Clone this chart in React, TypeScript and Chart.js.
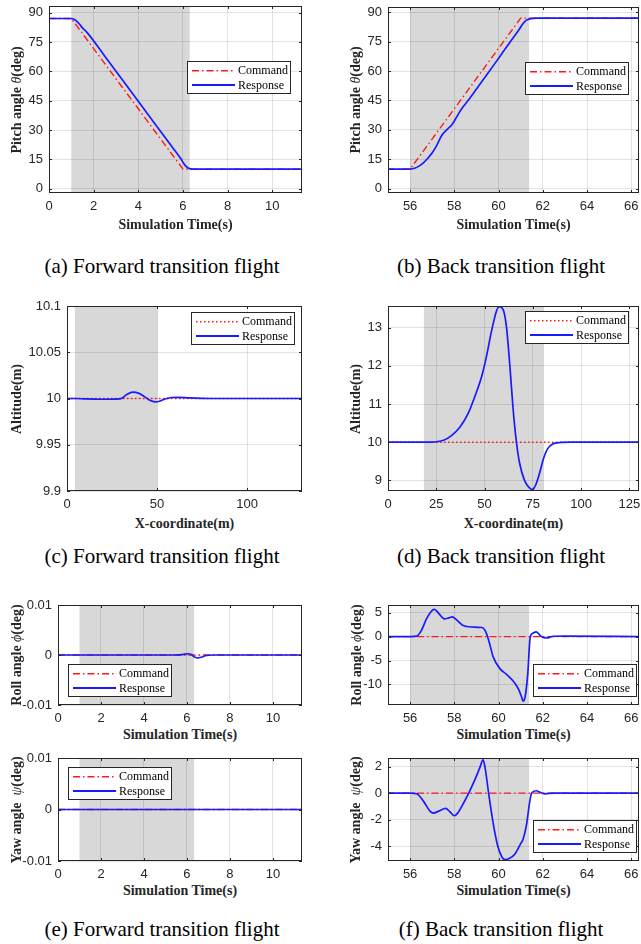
import React, { useEffect, useRef } from "react";
import { Chart, registerables } from "chart.js";
Chart.register(...registerables);

// ---------------- DATA ----------------
// (a) pitch, forward transition
const aCmdT = [0, 1.0, 6.0, 11.33];
const aCmdV = [87, 87, 10, 10];
const aRespT = [0, 1.0, 1.1, 1.2, 1.35, 1.5, 1.7, 2.5, 3.5, 4.5, 5.5, 5.9, 6.05, 6.15, 6.25, 6.35, 6.5, 6.7, 11.33];
const aRespV = [87, 87, 86.8, 86.0, 84.3, 82.2, 79.9, 67.75, 52.35, 36.95, 21.55, 15.4, 12.6, 11.3, 10.5, 10.15, 10.02, 10.0, 10.0];
// (b) pitch, back transition
const bCmdT = [55, 56, 61.0, 66.35];
const bCmdV = [10, 10, 87, 87];
const bRespT = [55, 56, 56.2, 56.4, 56.6, 56.8, 57.0, 57.2, 57.45, 57.7, 57.9, 58.1, 58.3, 58.65, 59.0, 59.5, 60.06, 60.5, 60.93, 61.1, 61.26, 61.45, 61.7, 62, 66.35];
const bRespV = [10, 10, 10.4, 11.5, 13.2, 15.5, 18.3, 22, 27.5, 30.5, 32.8, 36.5, 40.3, 45.4, 50.8, 58.6, 67.5, 74.5, 81.2, 84.2, 86.0, 86.8, 87, 87, 87];
// (c) altitude, forward transition
const cCmdX = [0, 130.5];
const cCmdV = [10, 10];
const cRespX = [0, 5, 10, 20, 27, 30, 33, 36.5, 40, 43, 46, 49, 51, 54, 58, 62, 68, 75, 85, 130.5];
const cRespV = [10, 10, 9.9995, 9.9992, 9.9993, 9.9998, 10.004, 10.0068, 10.0055, 10.002, 9.998, 9.9963, 9.9968, 9.9992, 10.0011, 10.0012, 10.0006, 10.0002, 10, 10];
// (d) altitude, back transition
const dCmdX = [0, 130];
const dCmdV = [10, 10];
const dRespX = [0, 20, 24, 28.8, 33.0, 37.3, 41.6, 45.0, 48.5, 51.0, 53.6, 56.2, 57.5, 59.6, 61.3, 63.0, 64.7, 66.4, 68.2, 70.7, 73.3, 74.5, 76.4, 78.4, 80.8, 82.7, 85.3, 88.7, 95, 130];
const dRespV = [10, 10, 10.005, 10.05, 10.18, 10.4, 10.76, 11.2, 11.72, 12.25, 12.91, 13.44, 13.55, 13.48, 13.04, 12.08, 10.93, 10.05, 9.44, 9.0, 8.8, 8.76, 8.87, 9.17, 9.61, 9.83, 9.95, 9.99, 10, 10];
// (e) roll, forward transition
const eRollCmdT = [0, 11.35];
const eRollCmdV = [0, 0];
const eRollRespT = [0, 5.5, 5.8, 6.05, 6.2, 6.35, 6.5, 6.7, 6.9, 7.2, 11.35];
const eRollRespV = [0, 0, 0.0001, 0.00025, 0.0001, -0.0004, -0.0006, -0.0004, -0.0001, 0, 0];
// (e) yaw, forward transition
const eYawCmdT = [0, 11.35];
const eYawCmdV = [0, 0];
const eYawRespT = [0, 11.35];
const eYawRespV = [0, 0];
// (f) roll, back transition
const fRollCmdT = [55, 66.35];
const fRollCmdV = [0, 0];
const fRollRespT = [55, 56, 56.3, 56.5, 56.75, 57.0, 57.1, 57.3, 57.55, 57.75, 57.9, 58.1, 58.4, 58.8, 59.25, 59.4, 59.5, 59.6, 59.76, 60.06, 60.36, 60.66, 60.89, 61.04, 61.11, 61.2, 61.32, 61.43, 61.55, 61.7, 61.93, 62.17, 62.47, 63, 66.35];
const fRollRespV = [0, 0, 0.1, 1.2, 3.8, 5.5, 5.7, 4.8, 3.7, 3.9, 4.1, 3.5, 2.3, 2.0, 1.9, 1.2, 0, -1.6, -4.3, -6.7, -7.9, -9.3, -10.9, -12.6, -13.5, -12.6, -7.8, -0.1, 0.7, 1.0, 0, -0.3, 0.07, 0.1, 0];
// (f) yaw, back transition
const fYawCmdT = [55, 66.35];
const fYawCmdV = [0, 0];
const fYawRespT = [55, 56, 56.3, 56.6, 56.9, 57.05, 57.3, 57.6, 57.8, 58.0, 58.15, 58.4, 58.65, 58.9, 59.15, 59.3, 59.4, 59.55, 59.75, 59.95, 60.15, 60.3, 60.5, 60.75, 61.0, 61.1, 61.26, 61.49, 61.7, 61.9, 62.1, 62.5, 66.35];
const fYawRespV = [0, 0, -0.05, -0.6, -1.35, -1.5, -1.35, -1.15, -1.4, -1.7, -1.5, -0.8, 0, 0.9, 1.9, 2.5, 1.8, 0, -2.2, -3.9, -4.8, -5.0, -4.9, -4.55, -3.8, -3.5, -2.4, 0, 0.18, 0.05, -0.05, 0, 0];

// shaded transition intervals
const aShade = [1.0, 6.3];
const bShade = [56.0, 61.38];
const cShade = [4.4, 50.2];
const dShade = [18.6, 80.8];
const eShade = [1.0, 6.33];
const fShade = [56.0, 61.38];

// tick labels
const pitchYTicks = [0, 15, 30, 45, 60, 75, 90];
const fwdTimeTicks = [0, 2, 4, 6, 8, 10];
const backTimeTicks = [56, 58, 60, 62, 64, 66];
const cYTicks = [9.9, 9.95, 10, 10.05, 10.1];
const cXTicks = [0, 50, 100];
const dYTicks = [9, 10, 11, 12, 13];
const dXTicks = [0, 25, 50, 75, 100, 125];
const smallYTicks = [-0.01, 0, 0.01];
const fRollYTicks = [-10, -5, 0, 5];
const fYawYTicks = [-4, -2, 0, 2];

const legendLabels = ["Command", "Response"];
const captions = [
  "(a) Forward transition flight",
  "(b) Back transition flight",
  "(c) Forward transition flight",
  "(d) Back transition flight",
  "(e) Forward transition flight",
  "(f) Back transition flight",
];

// ---------------- STYLE ----------------
const RED = "#ff1a1a";
const BLUE = "#1a1aff";
const SHADE = "#d8d8d8";
const AXIS = "#262626";
const GRID = "rgba(0,0,0,0.11)";
const SERIF = '"Liberation Serif", "Times New Roman", serif';
const SANS = '"Liberation Sans", Arial, sans-serif';

type Panel = {
  id: string;
  canvas: [number, number, number, number];
  plot: [number, number, number, number];
  xRange: [number, number];
  yRange: [number, number];
  xTicks: number[];
  yTicks: number[];
  shade: number[];
  cmdX: number[];
  cmdY: number[];
  respX: number[];
  respY: number[];
  dotted: boolean;
  legend: [number, number];
  yTitle: [string, string, string];
  yTitleX: number;
  xTitle: string;
  xTitleY: number;
};

const panels: Panel[] = [
  {
    id: "a", canvas: [0, 0, 320, 220], plot: [49, 6, 302, 193],
    xRange: [0, 11.33], yRange: [-2.2, 93.4], xTicks: fwdTimeTicks, yTicks: pitchYTicks,
    shade: aShade, cmdX: aCmdT, cmdY: aCmdV, respX: aRespT, respY: aRespV, dotted: false,
    legend: [187, 61], yTitle: ["Pitch angle ", "θ", "(deg)"], yTitleX: 17,
    xTitle: "Simulation Time(s)", xTitleY: 225,
  },
  {
    id: "b", canvas: [320, 0, 321, 220], plot: [388, 7, 639, 193],
    xRange: [55, 66.35], yRange: [-2.2, 92.7], xTicks: backTimeTicks, yTicks: pitchYTicks,
    shade: bShade, cmdX: bCmdT, cmdY: bCmdV, respX: bRespT, respY: bRespV, dotted: false,
    legend: [525, 62], yTitle: ["Pitch angle ", "θ", "(deg)"], yTitleX: 356,
    xTitle: "Simulation Time(s)", xTitleY: 225,
  },
  {
    id: "c", canvas: [0, 296, 320, 220], plot: [67, 306, 302, 491],
    xRange: [0, 130.5], yRange: [9.9, 10.1], xTicks: cXTicks, yTicks: cYTicks,
    shade: cShade, cmdX: cCmdX, cmdY: cCmdV, respX: cRespX, respY: cRespV, dotted: true,
    legend: [191, 312], yTitle: ["Altitude(m)", "", ""], yTitleX: 17,
    xTitle: "X-coordinate(m)", xTitleY: 523.5,
  },
  {
    id: "d", canvas: [320, 296, 321, 220], plot: [388, 306, 639, 491],
    xRange: [0, 130], yRange: [8.72, 13.57], xTicks: dXTicks, yTicks: dYTicks,
    shade: dShade, cmdX: dCmdX, cmdY: dCmdV, respX: dRespX, respY: dRespV, dotted: true,
    legend: [525, 311], yTitle: ["Altitude(m)", "", ""], yTitleX: 356,
    xTitle: "X-coordinate(m)", xTitleY: 523.5,
  },
  {
    id: "eR", canvas: [0, 595, 320, 130], plot: [58, 605, 302, 705],
    xRange: [0, 11.35], yRange: [-0.01, 0.01], xTicks: fwdTimeTicks, yTicks: smallYTicks,
    shade: eShade, cmdX: eRollCmdT, cmdY: eRollCmdV, respX: eRollRespT, respY: eRollRespV, dotted: false,
    legend: [68, 664], yTitle: ["Roll angle ", "ϕ", "(deg)"], yTitleX: 17,
    xTitle: "Simulation Time(s)", xTitleY: 735,
  },
  {
    id: "fR", canvas: [320, 595, 321, 130], plot: [388, 605, 639, 705],
    xRange: [55, 66.35], yRange: [-14.3, 6.6], xTicks: backTimeTicks, yTicks: fRollYTicks,
    shade: fShade, cmdX: fRollCmdT, cmdY: fRollCmdV, respX: fRollRespT, respY: fRollRespV, dotted: false,
    legend: [533, 664], yTitle: ["Roll angle ", "ϕ", "(deg)"], yTitleX: 356.5,
    xTitle: "Simulation Time(s)", xTitleY: 735,
  },
  {
    id: "eY", canvas: [0, 748, 320, 135], plot: [58, 758, 302, 861],
    xRange: [0, 11.35], yRange: [-0.01, 0.01], xTicks: fwdTimeTicks, yTicks: smallYTicks,
    shade: eShade, cmdX: eYawCmdT, cmdY: eYawCmdV, respX: eYawRespT, respY: eYawRespV, dotted: false,
    legend: [68, 767], yTitle: ["Yaw angle\u00a0 ", "ψ", "(deg)"], yTitleX: 17,
    xTitle: "Simulation Time(s)", xTitleY: 891,
  },
  {
    id: "fY", canvas: [320, 748, 321, 135], plot: [388, 758, 639, 861],
    xRange: [55, 66.35], yRange: [-5.1, 2.64], xTicks: backTimeTicks, yTicks: fYawYTicks,
    shade: fShade, cmdX: fYawCmdT, cmdY: fYawCmdV, respX: fYawRespT, respY: fYawRespV, dotted: false,
    legend: [533, 820], yTitle: ["Yaw angle\u00a0 ", "ψ", "(deg)"], yTitleX: 356,
    xTitle: "Simulation Time(s)", xTitleY: 891,
  },
];

const DASHDOT = [7, 3, 1.5, 3];
const DOTTED = [1.5, 2.5];
const LEG_W = 104;
const LEG_H = 33;

function zip(xs: number[], ys: number[]) {
  return xs.map((x, i) => ({ x, y: ys[i] }));
}

function makePlugin(p: Panel) {
  return {
    id: "deco_" + p.id,
    beforeDraw(chart: any) {
      const { ctx, chartArea: ca, scales } = chart;
      const x0 = scales.x.getPixelForValue(p.shade[0]);
      const x1 = scales.x.getPixelForValue(p.shade[1]);
      ctx.save();
      ctx.fillStyle = SHADE;
      ctx.fillRect(x0, ca.top, x1 - x0, ca.bottom - ca.top);
      ctx.restore();
    },
    afterDraw(chart: any) {
      const { ctx, chartArea: ca, scales } = chart;
      ctx.save();
      // inner tick marks
      ctx.strokeStyle = AXIS;
      ctx.lineWidth = 1;
      const tl = 3;
      ctx.beginPath();
      p.xTicks.forEach((v) => {
        const px = Math.round(scales.x.getPixelForValue(v)) + 0.5;
        ctx.moveTo(px, ca.bottom);
        ctx.lineTo(px, ca.bottom - tl);
        ctx.moveTo(px, ca.top);
        ctx.lineTo(px, ca.top + tl);
      });
      p.yTicks.forEach((v) => {
        const py = Math.round(scales.y.getPixelForValue(v)) + 0.5;
        ctx.moveTo(ca.left, py);
        ctx.lineTo(ca.left + tl, py);
        ctx.moveTo(ca.right, py);
        ctx.lineTo(ca.right - tl, py);
      });
      ctx.stroke();
      // frame
      ctx.strokeRect(
        Math.round(ca.left) + 0.5,
        Math.round(ca.top) + 0.5,
        Math.round(ca.right - ca.left) - 1,
        Math.round(ca.bottom - ca.top) - 1
      );
      // legend
      const lx = p.legend[0] - p.canvas[0];
      const ly = p.legend[1] - p.canvas[1];
      ctx.fillStyle = "#ffffff";
      ctx.fillRect(lx, ly, LEG_W, LEG_H);
      ctx.strokeStyle = AXIS;
      ctx.lineWidth = 1;
      ctx.strokeRect(lx + 0.5, ly + 0.5, LEG_W - 1, LEG_H - 1);
      const rows = [ly + 9.7, ly + 24];
      ctx.strokeStyle = RED;
      ctx.lineWidth = 1.5;
      ctx.setLineDash(p.dotted ? DOTTED : DASHDOT);
      ctx.beginPath();
      ctx.moveTo(lx + 5, rows[0]);
      ctx.lineTo(lx + 48, rows[0]);
      ctx.stroke();
      ctx.setLineDash([]);
      ctx.strokeStyle = BLUE;
      ctx.lineWidth = 2;
      ctx.beginPath();
      ctx.moveTo(lx + 5, rows[1]);
      ctx.lineTo(lx + 48, rows[1]);
      ctx.stroke();
      ctx.fillStyle = "#000";
      ctx.font = "12px " + SERIF;
      ctx.textBaseline = "middle";
      ctx.textAlign = "left";
      ctx.fillText(legendLabels[0], lx + 51, rows[0] + 0.5);
      ctx.fillText(legendLabels[1], lx + 51, rows[1] + 0.5);
      ctx.restore();
    },
  };
}

function PanelChart({ p }: { p: Panel }) {
  const ref = useRef<HTMLCanvasElement>(null);
  const [cl, ct, cw, ch] = p.canvas;
  useEffect(() => {
    const [L, T, R, B] = p.plot;
    const yAxisW = L - cl;
    const xAxisH = ct + ch - B;
    const tickFont = { family: SANS, size: 13 };
    const chart = new Chart(ref.current as HTMLCanvasElement, {
      type: "line",
      data: {
        datasets: [
          {
            label: legendLabels[1],
            data: zip(p.respX, p.respY),
            borderColor: BLUE,
            borderWidth: 1.7,
            pointRadius: 0,
            cubicInterpolationMode: "monotone",
            order: 0,
          } as any,
          {
            label: legendLabels[0],
            data: zip(p.cmdX, p.cmdY),
            borderColor: RED,
            borderWidth: 1.4,
            borderDash: p.dotted ? DOTTED : DASHDOT,
            pointRadius: 0,
            tension: 0,
            order: 1,
          } as any,
        ],
      },
      options: {
        animation: false,
        responsive: false,
        maintainAspectRatio: false,
        devicePixelRatio: 1,
        layout: { padding: { top: T - ct, right: cl + cw - R, bottom: 0, left: 0 } },
        plugins: { legend: { display: false }, tooltip: { enabled: false } },
        scales: {
          x: {
            type: "linear",
            min: p.xRange[0],
            max: p.xRange[1],
            afterBuildTicks: (s: any) => {
              s.ticks = p.xTicks.map((v) => ({ value: v }));
            },
            afterFit: (s: any) => {
              s.height = xAxisH;
              s.paddingLeft = 0;
              s.paddingRight = 0;
            },
            grid: { color: GRID, drawTicks: false, lineWidth: 1 },
            border: { display: false },
            ticks: {
              font: tickFont,
              color: AXIS,
              padding: 6,
              maxRotation: 0,
              autoSkip: false,
              callback: (v: any) => String(v),
            },
          },
          y: {
            type: "linear",
            min: p.yRange[0],
            max: p.yRange[1],
            afterBuildTicks: (s: any) => {
              s.ticks = p.yTicks.map((v) => ({ value: v }));
            },
            afterFit: (s: any) => {
              s.width = yAxisW;
              s.paddingTop = 0;
              s.paddingBottom = 0;
            },
            grid: { color: GRID, drawTicks: false, lineWidth: 1 },
            border: { display: false },
            ticks: {
              font: tickFont,
              color: AXIS,
              padding: 6,
              autoSkip: false,
              callback: (v: any) => String(v),
            },
          },
        },
      } as any,
      plugins: [makePlugin(p)],
    });
    return () => chart.destroy();
  }, []);
  return (
    <canvas
      ref={ref}
      width={cw}
      height={ch}
      style={{ position: "absolute", left: cl, top: ct, width: cw, height: ch }}
    />
  );
}

const captionPos: [number, number][] = [
  [162, 266], [501, 266], [162, 556], [501, 556], [162, 929], [501, 929],
];

export default function App() {
  return (
    <div
      style={{
        position: "absolute",
        left: 0,
        top: 0,
        width: 641,
        height: 944,
        background: "#fff",
        overflow: "hidden",
      }}
    >
      {panels.map((p) => (
        <PanelChart key={p.id} p={p} />
      ))}
      {panels.map((p) => (
        <div
          key={"yt" + p.id}
          style={{
            position: "absolute",
            left: p.yTitleX,
            top: (p.plot[1] + p.plot[3]) / 2,
            transform: "translate(-50%, -50%) rotate(-90deg)",
            whiteSpace: "nowrap",
            font: "bold 14px " + SERIF,
            color: AXIS,
            lineHeight: "16px",
          }}
        >
          {p.yTitle[0]}
          {p.yTitle[1] ? (
            <span style={{ fontStyle: "italic", fontWeight: "normal" }}>{p.yTitle[1]}</span>
          ) : null}
          {p.yTitle[2]}
        </div>
      ))}
      {panels.map((p) => (
        <div
          key={"xt" + p.id}
          style={{
            position: "absolute",
            left: (p.plot[0] + p.plot[2]) / 2,
            top: p.xTitleY,
            transform: "translate(-50%, -50%)",
            whiteSpace: "nowrap",
            font: "bold 14px " + SERIF,
            color: AXIS,
            lineHeight: "16px",
          }}
        >
          {p.xTitle}
        </div>
      ))}
      {captions.map((c, i) => (
        <div
          key={"cap" + i}
          style={{
            position: "absolute",
            left: captionPos[i][0],
            top: captionPos[i][1],
            transform: "translate(-50%, -50%)",
            whiteSpace: "nowrap",
            font: "21px " + SERIF,
            color: "#000",
            lineHeight: "24px",
          }}
        >
          {c}
        </div>
      ))}
    </div>
  );
}
